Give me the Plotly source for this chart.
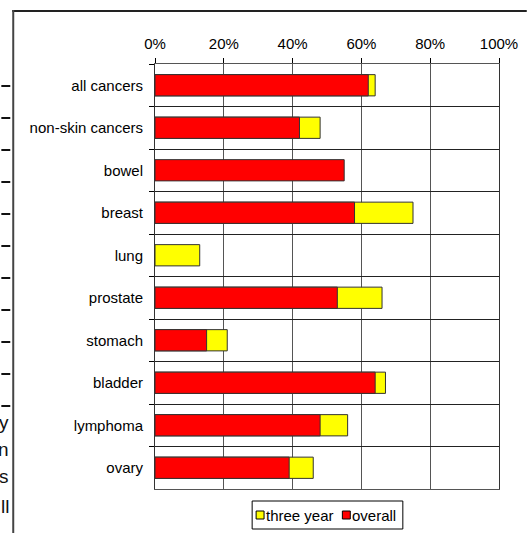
import plotly.graph_objects as go

categories = ["all cancers", "non-skin cancers", "bowel", "breast", "lung",
              "prostate", "stomach", "bladder", "lymphoma", "ovary"]
three_year = [0.64, 0.48, None, 0.75, 0.13, 0.66, 0.21, 0.67, 0.56, 0.46]
overall = [0.62, 0.42, 0.55, 0.58, None, 0.53, 0.15, 0.64, 0.48, 0.39]
x_ticks = [0, 0.2, 0.4, 0.6, 0.8, 1.0]
x_tick_labels = ["0%", "20%", "40%", "60%", "80%", "100%"]
series_names = ["three year", "overall"]
series_colors = ["#FFFF00", "#FF0000"]

FONT = "Liberation Sans, Arial, sans-serif"
W, H = 530, 533
L, R, T, B = 155, 502, 64, 489


def px(x):
    return (x - L) / (R - L)


def py(y):
    return (B - y) / (B - T)


fig = go.Figure()
for name, vals, col in zip(series_names, [three_year, overall], series_colors):
    fig.add_trace(go.Bar(
        y=categories, x=vals, orientation="h", name=name,
        marker=dict(color=col, line=dict(color="#333333", width=1)),
        width=0.5, showlegend=False,
    ))

shapes = []
annotations = []
# page fragments outside the chart
shapes.append(dict(type="line", xref="paper", yref="paper",
                   x0=px(11), x1=px(530), y0=py(11), y1=py(11),
                   line=dict(color="#222222", width=2)))
shapes.append(dict(type="line", xref="paper", yref="paper",
                   x0=px(12), x1=px(12), y0=py(10), y1=py(533),
                   line=dict(color="#444444", width=2)))
for yy in [86, 118, 150, 182, 214, 246, 278, 310, 342, 374, 406]:
    shapes.append(dict(type="line", xref="paper", yref="paper",
                       x0=px(0), x1=px(9), y0=py(yy), y1=py(yy),
                       line=dict(color="#111111", width=2)))
for txt, yy in [("y", 422), ("n", 449), ("s", 476), ("ll", 507)]:
    annotations.append(dict(text=txt, xref="paper", yref="paper",
                            x=px(10), y=py(yy), xanchor="right", yanchor="middle",
                            showarrow=False, font=dict(size=19, color="#111111", family=FONT)))

# legend box
shapes.append(dict(type="rect", xref="paper", yref="paper",
                   x0=px(253), x1=px(405), y0=py(501), y1=py(529),
                   line=dict(color="#000000", width=1), fillcolor="white"))
legend_sq_x = [257, 344]
legend_txt_x = [265, 352]
for name, col, sx, tx in zip(series_names, series_colors, legend_sq_x, legend_txt_x):
    shapes.append(dict(type="rect", xref="paper", yref="paper",
                       x0=px(sx), x1=px(sx + 8), y0=py(511), y1=py(519),
                       line=dict(color="#000000", width=1), fillcolor=col))
    annotations.append(dict(text=name, xref="paper", yref="paper",
                            x=px(tx), y=py(515.5), xanchor="left", yanchor="middle",
                            showarrow=False, font=dict(size=15, color="#000000", family=FONT)))

fig.update_layout(
    width=W, height=H,
    margin=dict(l=L, r=W - R, t=T, b=H - B, pad=0),
    barmode="overlay",
    paper_bgcolor="white", plot_bgcolor="white",
    font=dict(family=FONT, size=15, color="#000000"),
    shapes=shapes, annotations=annotations,
    showlegend=False,
)
fig.update_xaxes(
    side="top", range=[0, 1], tickvals=x_ticks, ticktext=x_tick_labels,
    showgrid=True, gridcolor="#555555", gridwidth=1,
    showline=True, linecolor="#555555", linewidth=1, mirror=True,
    ticks="outside", ticklen=5, tickcolor="#000000",
    ticklabelstandoff=3, zeroline=False,
)
fig.update_yaxes(
    type="category", categoryorder="array", categoryarray=categories,
    autorange="reversed", tickson="boundaries",
    showgrid=True, gridcolor="#222222", gridwidth=1,
    showline=True, linecolor="#333333", linewidth=1, mirror=True,
    ticks="outside", ticklen=5, tickcolor="#000000",
    ticklabelstandoff=8,
)

fig.write_html("out.html", config={"displayModeBar": False},
               post_script="document.body.style.margin='0';document.body.style.overflow='hidden';")
